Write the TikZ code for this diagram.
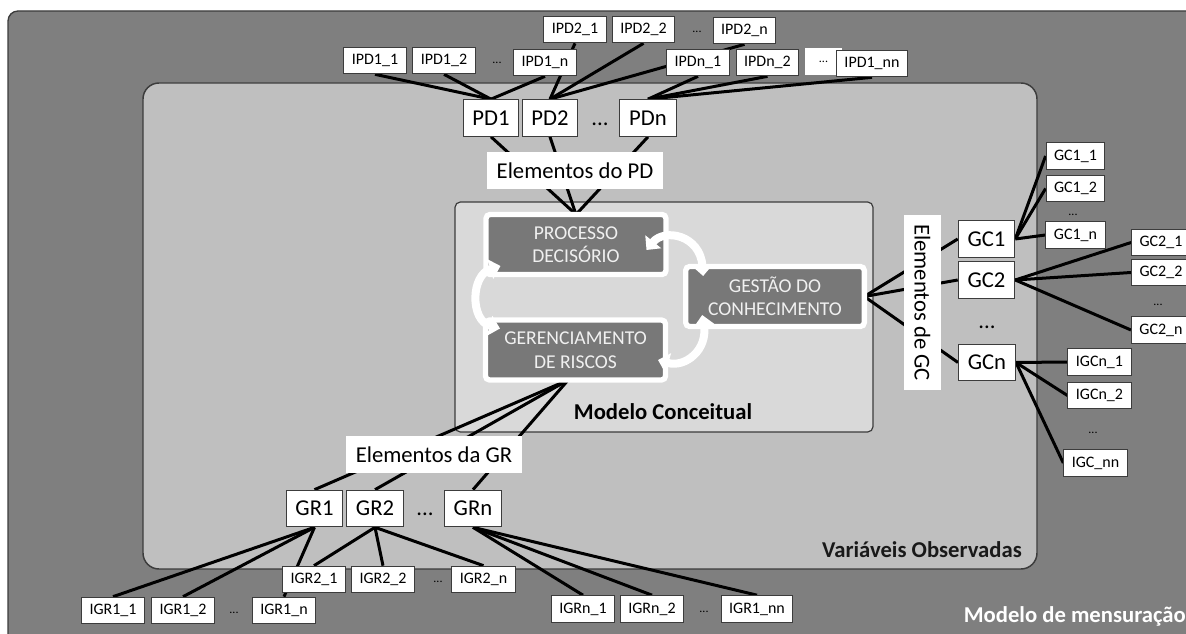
\documentclass[tikz,border=0pt]{standalone}
\usepackage{fontspec}
\setmainfont{Carlito}
\usetikzlibrary{arrows.meta,positioning,calc}

\definecolor{panelgray}{HTML}{7F7F7F}
\definecolor{lightpanel}{HTML}{BFBFBF}
\definecolor{conceptgray}{HTML}{D9D9D9}
\definecolor{darkbox}{HTML}{787878}
\definecolor{edgegray}{HTML}{3C3C3C}

\pgfdeclarelayer{panels}
\pgfdeclarelayer{wires}
\pgfsetlayers{panels,wires,main}

\tikzset{
  lbl/.style={draw=edgegray, line width=0.75pt, fill=white, inner xsep=6pt, inner ysep=0pt,
    minimum height=20pt, font=\fontsize{12}{14}\selectfont},
  elem/.style={draw=edgegray, line width=0.75pt, fill=white, inner xsep=7pt, inner ysep=0pt,
    minimum height=27.5pt, font=\fontsize{17}{20}\selectfont},
  elemtag/.style={fill=white, inner xsep=7pt, inner ysep=0pt, minimum height=27.5pt,
    font=\fontsize{17}{20}\selectfont},
  dotsmall/.style={inner sep=0pt, font=\fontsize{9}{11}\selectfont},
  dotbig/.style={inner sep=0pt, font=\fontsize{17}{20}\selectfont},
  concept/.style={fill=darkbox, draw=white, line width=4pt, rounded corners=3pt, outer sep=0pt,
    text=white!94!black, align=center, minimum width=135pt, minimum height=45pt,
    font=\fontsize{14.7}{17.6}\selectfont},
  paneltitle/.style={inner sep=0pt, font=\fontsize{17}{20}\selectfont\bfseries},
  wire/.style={line width=2.25pt, black},
  cyclearrow/.style={draw=white, line width=6pt,
    {Triangle[length=8pt,width=15pt]}-{Triangle[length=8pt,width=15pt]}}
}

\begin{document}
\begin{tikzpicture}[x=0.75pt, y=-0.75pt]
  \useasboundingbox (0,0) rectangle (1186,634);

  % Panels
  \begin{pgfonlayer}{panels}
    \filldraw[fill=panelgray, draw=edgegray, line width=1pt, rounded corners=7.5pt] (8,11) rectangle (1210,660);
    \filldraw[fill=lightpanel, draw=edgegray, line width=1.1pt, rounded corners=12pt] (143,83) rectangle (1037,569);
    \filldraw[fill=conceptgray, draw=edgegray, line width=0.9pt, rounded corners=4pt] (455,202) rectangle (873,432);
  \end{pgfonlayer}

  % Conceptual model
  \node[concept] (pdbox) at (576,244.5) {PROCESSO\\DECISÓRIO};
  \node[concept] (grbox) at (575.5,350) {GERENCIAMENTO\\DE RISCOS};
  \node[concept, minimum width=134pt] (gcbox) at (775,296.5) {GESTÃO DO\\CONHECIMENTO};
  \node[paneltitle] (conceitual) at (663,412) {Modelo Conceitual};

  % Cycle arrows
  \draw[cyclearrow] ($(pdbox.south west)+(14.5,-8.5)$) .. controls +(-30,9) and +(-30,-8) .. ($(grbox.north west)+(14.5,8.5)$);
  \draw[cyclearrow] ($(pdbox.east)+(-19.5,5.5)$) .. controls +(18,-22) and +(-3,-41) .. ($(gcbox.north west)+(17.5,9.5)$);
  \draw[cyclearrow] ($(gcbox.south west)+(16.5,-11.5)$) .. controls +(6,35) and +(27,8) .. ($(grbox.east)+(-7.5,10)$);

  % PD side
  \node[elemtag] (elempd) at (575,170.5) {Elementos do PD};
  \node[elem] (pd1) at (491,118) {PD1};
  \node[elem] (pd2) at (550,118) {PD2};
  \node[dotbig] (pddots) at (600,124) {...};
  \node[elem] (pdn) at (648,118) {PDn};

  \node[lbl] (ipd11) at (375,60.5) {IPD1\_1};
  \node[lbl] (ipd12) at (444,60.5) {IPD1\_2};
  \node[dotsmall] (ipd1dots) at (497,63) {...};
  \node[lbl] (ipd1n) at (545,62.5) {IPD1\_n};
  \node[lbl] (ipd21) at (575,29.5) {IPD2\_1};
  \node[lbl] (ipd22) at (643.5,29.5) {IPD2\_2};
  \node[dotsmall] (ipd2dots) at (697,32) {...};
  \node[lbl] (ipd2n) at (744.5,30.5) {IPD2\_n};
  \node[lbl] (ipdn1) at (698,62.5) {IPDn\_1};
  \node[lbl] (ipdn2) at (767.5,62.5) {IPDn\_2};
  \node[dotsmall, fill=white, minimum width=27.75pt, minimum height=20pt] (ipdndots) at (823.5,61.5) {...};
  \node[lbl] (ipd1nn) at (872,63.5) {IPD1\_nn};

  % GC side
  \node[elemtag, rotate=-90] (elemgc) at (922.5,302.5) {Elementos de GC};
  \node[elem] (gc1) at (986.5,239) {GC1};
  \node[elem] (gc2) at (986.5,280) {GC2};
  \node[dotbig] (gcdots) at (987,327) {...};
  \node[elem] (gcn) at (987,362.5) {GCn};

  \node[lbl] (gc11) at (1075.5,156) {GC1\_1};
  \node[lbl] (gc12) at (1075.5,188.5) {GC1\_2};
  \node[dotsmall] (gc1dots) at (1073,215) {...};
  \node[lbl] (gc1n) at (1075.5,235) {GC1\_n};
  \node[lbl] (gc21) at (1161,242.5) {GC2\_1};
  \node[lbl] (gc22) at (1161,272.5) {GC2\_2};
  \node[dotsmall] (gc2dots) at (1158,305) {...};
  \node[lbl] (gc2n) at (1161,330) {GC2\_n};
  \node[lbl] (igcn1) at (1099.5,362) {IGCn\_1};
  \node[lbl] (igcn2) at (1099.5,395.5) {IGCn\_2};
  \node[dotsmall] (igcdots) at (1093,433) {...};
  \node[lbl] (igcnn) at (1095.5,463) {IGC\_nn};

  % GR side
  \node[elemtag] (elemgr) at (434,454.5) {Elementos da GR};
  \node[elem] (gr1) at (314.5,508.5) {GR1};
  \node[elem] (gr2) at (375,508.5) {GR2};
  \node[dotbig] (grdots) at (425,514) {...};
  \node[elem] (grn) at (473,508.5) {GRn};

  \node[lbl] (igr21) at (314,579.5) {IGR2\_1};
  \node[lbl] (igr22) at (383,579.5) {IGR2\_2};
  \node[dotsmall] (igr2dots) at (438,582) {...};
  \node[lbl] (igr2n) at (483.5,579.5) {IGR2\_n};
  \node[lbl] (igr11) at (113,610.5) {IGR1\_1};
  \node[lbl] (igr12) at (183,610.5) {IGR1\_2};
  \node[dotsmall] (igr1dots) at (234,613) {...};
  \node[lbl] (igr1n) at (284,610.5) {IGR1\_n};
  \node[lbl] (igrn1) at (583,609) {IGRn\_1};
  \node[lbl] (igrn2) at (652,609) {IGRn\_2};
  \node[dotsmall] (igrndots) at (704,612) {...};
  \node[lbl] (igr1nn) at (757,609) {IGR1\_nn};

  % Panel titles
  \node[paneltitle, text=black!90] (observadas) at (922,550) {Variáveis Observadas};
  \node[paneltitle, text=white, anchor=east] (mensuracao) at (1186,616) {Modelo de mensuração};

  % Wires
  \begin{pgfonlayer}{wires}
    \draw[wire] (ipd11.south) -- (pd1.north);
    \draw[wire] (ipd12.south) -- (pd1.north);
    \draw[wire] (ipd1n.south) -- (pd1.north);
    \draw[wire] (ipd21.south) -- (pd2.north);
    \draw[wire] (ipd22.south) -- (pd2.north);
    \draw[wire] (ipd2n.south) -- (pd2.north);
    \draw[wire] (ipdn1.south) -- (pdn.north);
    \draw[wire] (ipdn2.south) -- (pdn.north);
    \draw[wire] (ipd1nn.south) -- (pdn.north);
    \draw[wire] (pd1.south) -- (pdbox.north);
    \draw[wire] (pd2.south) -- (pdbox.north);
    \draw[wire] (pdn.south) -- (pdbox.north);

    \draw[wire] (gc1.west) -- (gcbox.east);
    \draw[wire] (gc2.west) -- (gcbox.east);
    \draw[wire] (gcn.west) -- (gcbox.east);
    \draw[wire] (gc1.east) -- (gc11.west);
    \draw[wire] (gc1.east) -- (gc12.west);
    \draw[wire] (gc1.east) -- (gc1n.west);
    \draw[wire] (gc2.east) -- (gc21.west);
    \draw[wire] (gc2.east) -- (gc22.west);
    \draw[wire] (gc2.east) -- (gc2n.west);
    \draw[wire] (gcn.east) -- (igcn1.west);
    \draw[wire] (gcn.east) -- (igcn2.west);
    \draw[wire] (gcn.east) -- (igcnn.west);

    \draw[wire] (gr1.north) -- ([xshift=-5.5pt]grbox.south);
    \draw[wire] (gr2.north) -- ([xshift=-5.5pt]grbox.south);
    \draw[wire] (grn.north) -- ([xshift=-5.5pt]grbox.south);
    \draw[wire] (gr1.south) -- (igr11.north);
    \draw[wire] (gr1.south) -- (igr12.north);
    \draw[wire] (gr1.south) -- (igr1n.north);
    \draw[wire] (gr2.south) -- (igr21.north);
    \draw[wire] (gr2.south) -- (igr22.north);
    \draw[wire] (gr2.south) -- (igr2n.north);
    \draw[wire] (grn.south) -- (igrn1.north);
    \draw[wire] (grn.south) -- (igrn2.north);
    \draw[wire] (grn.south) -- (igr1nn.north);
  \end{pgfonlayer}
\end{tikzpicture}
\end{document}
